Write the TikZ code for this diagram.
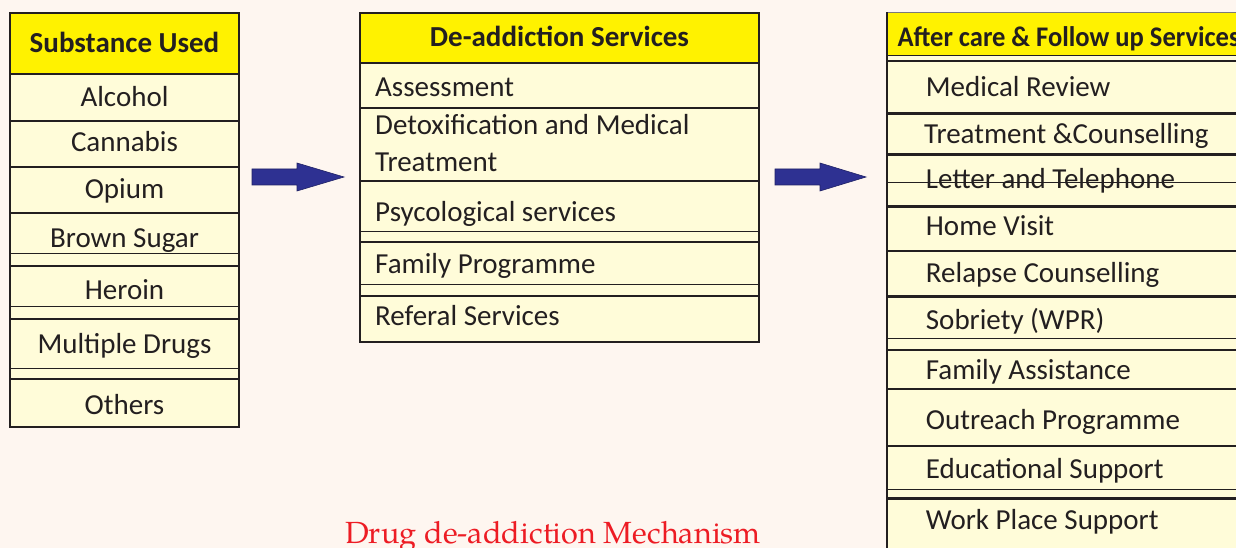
\documentclass[tikz,border=0pt]{standalone}
\usepackage{fontspec}
\usepackage{graphicx}
\setmainfont{Carlito}
\newfontfamily\titlefont{TeX Gyre Pagella}
\definecolor{bg}{HTML}{FEF6F0}
\definecolor{ink}{HTML}{231F20}
\definecolor{rowfill}{HTML}{FFFCD9}
\definecolor{headfill}{HTML}{FFF200}
\definecolor{arrowblue}{HTML}{2E3192}
\definecolor{titlered}{HTML}{ED1C24}
\newcommand\mkcell[6]{\node[#1, minimum width=#5, minimum height={#6-#4}] (#2) at (#3,#4) {};}
\begin{document}
\begin{tikzpicture}[x=1pt,y=-1pt,
  cellbox/.style={draw=ink, line width=2.6pt, fill=rowfill, anchor=north west, inner sep=0pt, outer sep=0pt},
  headbox/.style={cellbox, fill=headfill},
  thinline/.style={draw=ink, line width=0.9pt},
  txt/.style={font=\fontsize{29}{34}\selectfont, text=ink, inner sep=0pt},
  headtxt/.style={font=\bfseries\fontsize{29}{34}\selectfont, text=ink, inner sep=0pt},
  blockarrow/.style={fill=arrowblue, draw=arrowblue!70!black, line width=0.6pt}]
\useasboundingbox (0,0) rectangle (1236,548);
\clip (0,0) rectangle (1236,548);
\fill[bg] (0,0) rectangle (1236,548);

% ---------- left table ----------
\mkcell{headbox}{sh}{10}{13}{229}{74}
\mkcell{cellbox}{s1}{10}{74}{229}{121}
\mkcell{cellbox}{s2}{10}{121}{229}{167}
\mkcell{cellbox}{s3}{10}{167}{229}{213}
\mkcell{cellbox}{s4}{10}{213}{229}{266}
\mkcell{cellbox}{s5}{10}{266}{229}{319}
\mkcell{cellbox}{s6}{10}{319}{229}{379}
\mkcell{cellbox}{s7}{10}{379}{229}{427}
\draw[thinline] (10,253) -- (239,253);
\draw[thinline] (10,306) -- (239,306);
\draw[thinline] (10,368) -- (239,368);
\node[headtxt, anchor=base] (tsh) at (124.5,53) {Substance Used};
\node[txt, anchor=base] (ts1) at (124.5,107) {Alcohol};
\node[txt, anchor=base] (ts2) at (124.5,152) {Cannabis};
\node[txt, anchor=base] (ts3) at (124.5,199) {Opium};
\node[txt, anchor=base] (ts4) at (124.5,247) {Brown Sugar};
\node[txt, anchor=base] (ts5) at (124.5,299) {Heroin};
\node[txt, anchor=base] (ts6) at (124.5,353) {Multiple Drugs};
\node[txt, anchor=base] (ts7) at (124.5,414) {Others};

% ---------- middle table ----------
\mkcell{headbox}{dh}{360}{13}{399}{63}
\mkcell{cellbox}{d1}{360}{63}{399}{108}
\mkcell{cellbox}{d2}{360}{108}{399}{181}
\mkcell{cellbox}{d3}{360}{181}{399}{242}
\mkcell{cellbox}{d4}{360}{242}{399}{296}
\mkcell{cellbox}{d5}{360}{296}{399}{342}
\draw[thinline] (360,231) -- (759,231);
\draw[thinline] (360,284) -- (759,284);
\node[headtxt, anchor=base] (tdh) at (559.5,47) {De-addiction Services};
\node[txt, anchor=base west] (td1) at (375,97) {Assessment};
\node[txt, anchor=base west] (td2a) at (375,135) {Detoxification and Medical};
\node[txt, anchor=base west] (td2b) at (375,172) {Treatment};
\node[txt, anchor=base west] (td3) at (375,221) {Psycological services};
\node[txt, anchor=base west] (td4) at (375,273) {Family Programme};
\node[txt, anchor=base west] (td5) at (375,325) {Referal Services};

% ---------- right table ----------
\node[fill=headfill, draw=ink!60, line width=1pt, anchor=north west, inner sep=0pt,
      minimum width=373, minimum height=43] (ah) at (887,12.5) {};
\fill[rowfill] (887,55) rectangle (1260,61);
\draw[thinline] (887,55) -- (1260,55);
\mkcell{cellbox}{a1}{887}{61}{373}{113.5}
\mkcell{cellbox}{a2}{887}{113.5}{373}{154.5}
\mkcell{cellbox}{a3}{887}{154.5}{373}{206.5}
\mkcell{cellbox}{a4}{887}{206.5}{373}{251}
\mkcell{cellbox}{a5}{887}{251}{373}{296.5}
\mkcell{cellbox}{a6}{887}{296.5}{373}{350}
\mkcell{cellbox}{a7}{887}{350}{373}{389}
\mkcell{cellbox}{a8}{887}{389}{373}{446}
\mkcell{cellbox}{a9}{887}{446}{373}{498.5}
\mkcell{cellbox}{a10}{887}{498.5}{373}{580}
\draw[ink, line width=2.6pt] (887,12.5) -- (887,548);
\node[text=ink, inner sep=0pt, anchor=base west] (tah) at (897.3,46.7)
  {\scalebox{0.935}[1]{\bfseries\fontsize{28.4}{32}\selectfont After care \& Follow up Services}};
\node[txt, anchor=base west] (ta1) at (925.7,96.7) {Medical Review};
\node[txt, anchor=base west] (ta2) at (924,144) {Treatment \&Counselling};
\node[txt, anchor=base west] (ta3) at (925.7,188.3) {Letter and Telephone};
\node[txt, anchor=base west] (ta4) at (925.7,235.7) {Home Visit};
\node[txt, anchor=base west] (ta5) at (925.7,282) {Relapse Counselling};
\node[txt, anchor=base west] (ta6) at (925.7,329) {Sobriety (WPR)};
\node[txt, anchor=base west] (ta7) at (925.7,379) {Family Assistance};
\node[txt, anchor=base west] (ta8) at (925.7,429) {Outreach Programme};
\node[txt, anchor=base west] (ta9) at (925.7,478) {Educational Support};
\node[txt, anchor=base west] (ta10) at (925.7,529) {Work Place Support};
\draw[thinline] (887,182.3) -- (1260,182.3);
\draw[thinline] (887,338) -- (1260,338);
\draw[thinline] (887,489) -- (1260,489);

% ---------- arrows ----------
\draw[blockarrow] (252,169) -- (297,169) -- (297,163) -- (344,177) -- (297,191) -- (297,185) -- (252,185) -- cycle;
\draw[blockarrow] (775,169) -- (820,169) -- (820,163) -- (866,177) -- (820,191) -- (820,185) -- (775,185) -- cycle;

% ---------- caption ----------
\node[font=\titlefont\fontsize{30.6}{36}\selectfont, text=titlered, inner sep=0pt, anchor=base west] (cap) at (345,543) {Drug de-addiction Mechanism};
\end{tikzpicture}
\end{document}
